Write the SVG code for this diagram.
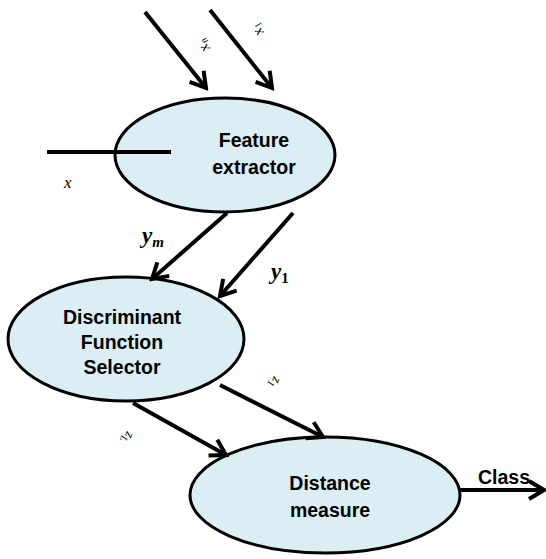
<svg xmlns="http://www.w3.org/2000/svg" width="546" height="559" viewBox="0 0 546 559">
  <style>
    .node ellipse { fill: #DAEEF3; stroke: #000; stroke-width: 3; }
    .label { font-family: "Liberation Sans", Arial, sans-serif; font-weight: bold; font-size: 19.5px; fill: #000; text-anchor: middle; }
    .math { font-family: "Liberation Serif", "Times New Roman", serif; font-style: italic; fill: #000; }
    .wire { stroke: #000; stroke-width: 4; fill: none; }
    .arrow { marker-end: url(#head); }
  </style>
  <defs>
    <marker id="head" markerUnits="userSpaceOnUse" markerWidth="24" markerHeight="24" viewBox="0 0 24 24" refX="21" refY="12" orient="auto">
      <path d="M6,3 L21,12 L6,21" fill="none" stroke="#000" stroke-width="4" stroke-linejoin="miter"/>
    </marker>
  </defs>

  <g id="feature-extractor" class="node">
    <ellipse cx="225" cy="155" rx="110" ry="57"/>
    <text class="label" x="254" y="147">Feature</text>
    <text class="label" x="254" y="174">extractor</text>
  </g>

  <g id="discriminant-selector" class="node">
    <ellipse cx="126" cy="339" rx="118" ry="62"/>
    <text class="label" x="122" y="324">Discriminant</text>
    <text class="label" x="122" y="349">Function</text>
    <text class="label" x="122" y="374">Selector</text>
  </g>

  <g id="distance-measure" class="node">
    <ellipse cx="325" cy="495" rx="135" ry="58"/>
    <text class="label" x="330" y="490">Distance</text>
    <text class="label" x="330" y="517">measure</text>
  </g>

  <g id="connectors">
    <line class="wire arrow" x1="145" y1="12" x2="206" y2="88"/>
    <line class="wire arrow" x1="210" y1="10" x2="272" y2="88"/>
    <line class="wire" x1="47" y1="152" x2="171" y2="152" stroke-width="2"/>
    <line class="wire arrow" x1="227" y1="213" x2="152" y2="279"/>
    <line class="wire arrow" x1="293" y1="213" x2="220" y2="296"/>
    <line class="wire arrow" x1="133" y1="403" x2="226" y2="455"/>
    <line class="wire arrow" x1="220" y1="385" x2="323" y2="437"/>
    <line class="wire arrow" x1="460" y1="490" x2="544" y2="490"/>
  </g>

  <g id="connector-labels">
    <text class="math" font-size="15" transform="translate(210,48) rotate(232)">x<tspan font-size="10" dy="3">n</tspan></text>
    <text class="math" font-size="15" transform="translate(264,32) rotate(232)">x<tspan font-size="10" dy="3">1</tspan></text>
    <text class="math" font-size="17" x="64" y="188">x</text>
    <text class="math" font-size="23" font-weight="bold" x="142" y="243">y<tspan font-size="15" dy="4">m</tspan></text>
    <text class="math" font-size="23" font-weight="bold" x="271" y="279">y<tspan font-size="15" dy="4" font-style="normal">1</tspan></text>
    <text class="math" font-size="14" transform="translate(274,376) rotate(115)">z<tspan font-size="10" dy="3">1</tspan></text>
    <text class="math" font-size="14" transform="translate(127,431) rotate(115)">z<tspan font-size="10" dy="3">L</tspan></text>
    <text class="label" x="504" y="484" font-size="18">Class</text>
  </g>
</svg>
